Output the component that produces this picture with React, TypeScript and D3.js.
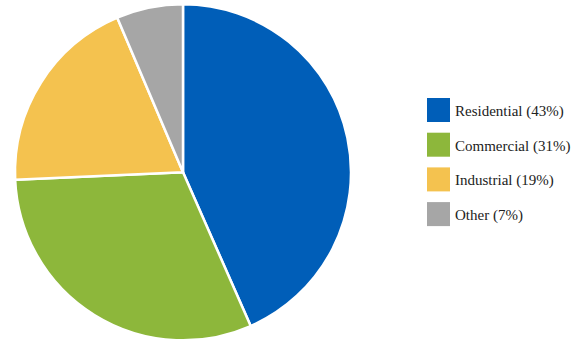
import React from "react";
import * as d3 from "d3";

const categories = ["Residential", "Commercial", "Industrial", "Other"];
const labelPercents = [43, 31, 19, 7];
const sliceValues = [43.4, 30.9, 19.3, 6.4];
const colors = ["#005EB8", "#8DB73B", "#F4C24F", "#A6A6A6"];

export default function App() {
  const width = 578;
  const height = 347;
  const cx = 183;
  const cy = 172.3;
  const r = 168;
  const pie = d3.pie<number>().sort(null).value((d) => d)(sliceValues);
  const arc = d3.arc<d3.PieArcDatum<number>>().innerRadius(0).outerRadius(r);
  return (
    <svg width={width} height={height} style={{ position: "absolute", left: 0, top: 0, background: "#fff" }}>
      <g transform={`translate(${cx},${cy})`}>
        {pie.map((p, i) => (
          <path key={i} d={arc(p) || ""} fill={colors[i]} stroke="#fff" strokeWidth={2.5} strokeLinejoin="round" />
        ))}
      </g>
      <g transform="translate(427,98)">
        {categories.map((c, i) => (
          <g key={c} transform={`translate(0,${i * 34.7})`}>
            <rect width={23} height={24} fill={colors[i]} />
            <text x={28} y={18} fontFamily="Times New Roman, Times, Liberation Serif, DejaVu Serif, Noto Serif, serif" fontSize={15} fill="#222">
              {`${c} (${labelPercents[i]}%)`}
            </text>
          </g>
        ))}
      </g>
    </svg>
  );
}
